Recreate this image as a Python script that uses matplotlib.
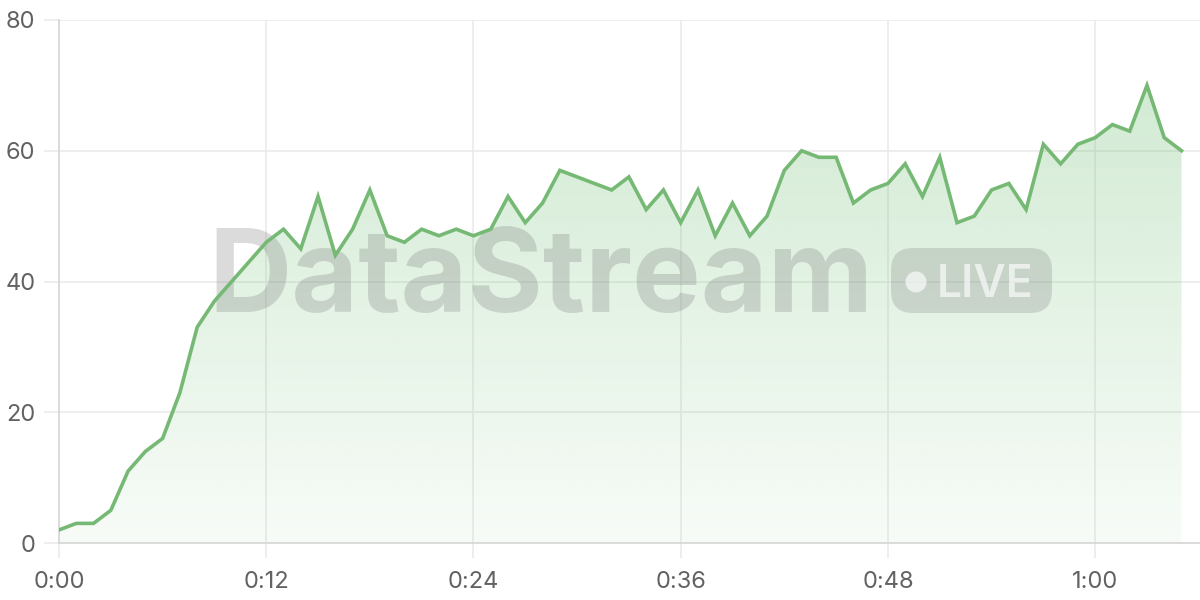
import matplotlib
matplotlib.use("Agg")
import matplotlib.pyplot as plt
import numpy as np
from matplotlib.patches import FancyBboxPatch, Circle
from matplotlib.transforms import Affine2D

# values, one per tick
values = [2, 3, 3, 5, 11, 14, 16, 23, 33, 37, 40, 43, 46, 48, 45, 53, 44, 48, 54, 47,
          46, 48, 47, 48, 47, 48, 53, 49, 52, 57, 56, 55, 54, 56, 51, 54, 49, 54, 47, 52,
          47, 50, 57, 60, 59, 59, 52, 54, 55, 58, 53, 59, 49, 50, 54, 55, 51, 61, 58, 61,
          62, 64, 63, 70, 62, 60]
x_ticks = [0, 12, 24, 36, 48, 60]
x_labels = ["0:00", "0:12", "0:24", "0:36", "0:48", "1:00"]
y_ticks = [0, 20, 40, 60, 80]

line_color = "#76b975"
fill_rgb = (0.40, 0.73, 0.42)
grid_color = "#e9e9e9"
text_color = "#626262"

plt.rcParams["font.family"] = ["Inter", "DejaVu Sans"]

fig = plt.figure(figsize=(12, 6), dpi=100)
ax = fig.add_axes([59 / 1200, 57 / 600, 1 - 59 / 1200, (543 - 20) / 600])

x = np.arange(len(values))
y = np.array(values)

ax.set_xlim(0, 66.07)
ax.set_ylim(0, 80)

# gradient fill under the line
poly = ax.fill_between(x, y, 0, color="none", lw=0)
grad = np.zeros((256, 1, 4))
grad[:, 0, :3] = fill_rgb
grad[:, 0, 3] = np.linspace(0.33, 0.05, 256)
img = ax.imshow(grad, extent=[0, x[-1], 0, 80], origin="upper", aspect="auto",
                zorder=1, interpolation="bilinear")
img.set_clip_path(poly.get_paths()[0], transform=ax.transData)

ax.plot(x, y, color=line_color, lw=2.6, zorder=4, solid_joinstyle="miter")

# watermark, placed in pixel coords (top-left origin)
px = Affine2D().scale(1 / 1200, -1 / 600).translate(0, 1) + fig.transFigure
ax.text(208, 312, "DataStream", transform=px, fontsize=83, fontweight="bold",
        color="#7a7a7a", alpha=0.27, ha="left", va="baseline", zorder=3)
pill = FancyBboxPatch((891, 248), 161, 65, boxstyle="round,pad=0,rounding_size=22",
                      transform=px, facecolor="#7a7a7a", edgecolor="none", alpha=0.25,
                      zorder=3, clip_on=False)
ax.add_patch(pill)
ax.add_patch(Circle((916, 282), 10.5, transform=px, facecolor="white", alpha=0.65,
                    edgecolor="none", zorder=3, clip_on=False))
ax.text(937, 297, "LIVE", transform=px, fontsize=32, fontweight="semibold",
        color="white", alpha=0.65, ha="left", va="baseline", zorder=3)

ax.set_xticks(x_ticks)
ax.set_xticklabels(x_labels)
ax.set_yticks(y_ticks)
ax.grid(True, color=grid_color, lw=1.1, zorder=0)
ax.set_axisbelow(True)

for side in ["top", "right"]:
    ax.spines[side].set_visible(False)
for side in ["left", "bottom"]:
    ax.spines[side].set_color("#d6d6d6")
    ax.spines[side].set_linewidth(1.2)

ax.tick_params(axis="both", length=11, width=1.1, color=grid_color,
               labelcolor=text_color, labelsize=17)
ax.tick_params(axis="x", pad=9)
ax.tick_params(axis="y", pad=6)

fig.savefig("out.png", dpi=100)
